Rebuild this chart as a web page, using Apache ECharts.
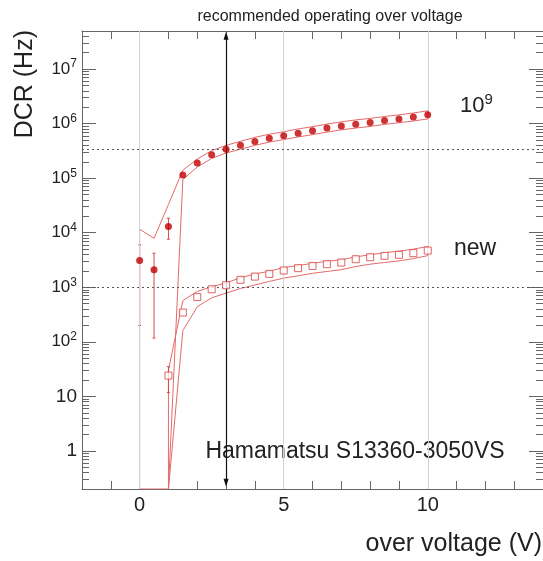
<!DOCTYPE html>
<html><head><meta charset="utf-8">
<script src="https://cdn.jsdelivr.net/npm/echarts@6/dist/echarts.min.js"></script>
<style>html,body{margin:0;padding:0;background:#fff}#c{width:543px;height:561px}</style>
</head><body><div id="c"></div>
<script>
// ---- data ----
const xs9 = [0, 0.5, 1, 1.5, 2, 2.5, 3, 3.5, 4, 4.5, 5, 5.5, 6, 6.5, 7, 7.5, 8, 8.5, 9, 9.5, 10];
const dcr9 = [3100, 2100, 13000, 1.15e5, 1.9e5, 2.7e5, 3.4e5, 4.0e5, 4.7e5, 5.4e5, 6.0e5, 6.7e5, 7.4e5, 8.3e5, 9.1e5, 9.8e5, 1.05e6, 1.14e6, 1.22e6, 1.32e6, 1.45e6];
const band9Up = [11600, 7900, 33000, 1.4e5, 2.25e5, 3.2e5, 4.0e5, 4.75e5, 5.6e5, 6.4e5, 7.1e5, 8.0e5, 8.8e5, 9.8e5, 1.08e6, 1.17e6, 1.25e6, 1.35e6, 1.45e6, 1.57e6, 1.72e6];
const band9Low = [0.2, 0.2, 0.2, 9.5e4, 1.6e5, 2.3e5, 2.9e5, 3.4e5, 4.0e5, 4.6e5, 5.1e5, 5.7e5, 6.3e5, 7.0e5, 7.7e5, 8.3e5, 8.9e5, 9.7e5, 1.04e6, 1.12e6, 1.22e6];
const errX9 = [0, 0.5, 1];
const errLo9 = [200, 117, 7600];
const errHi9 = [6000, 4200, 18500];

const xsNew = [1, 1.5, 2, 2.5, 3, 3.5, 4, 4.5, 5, 5.5, 6, 6.5, 7, 7.5, 8, 8.5, 9, 9.5, 10];
const dcrNew = [24, 344, 660, 920, 1090, 1370, 1570, 1760, 2030, 2240, 2460, 2650, 2840, 3270, 3560, 3770, 3930, 4220, 4710];
const bandNewUp = [30, 570, 840, 1020, 1200, 1500, 1750, 1970, 2300, 2500, 2750, 2980, 3200, 3600, 3950, 4300, 4600, 5000, 5600];
const bandNewLow = [0.2, 160, 440, 640, 780, 950, 1100, 1280, 1470, 1620, 1800, 1950, 2100, 2400, 2650, 2850, 3050, 3350, 3800];
const errXNew = [1];
const errLoNew = [11.7];
const errHiNew = [35];

const xGridLines = [0, 5, 10];
const refLevels = [3.4e5, 1000];
const arrowX = 3;
const arrowEnds = [0.26, 4.1e7];

const xMajorTicks = [0, 5, 10];
const xMinorTicks = [-1, 1, 2, 3, 4, 6, 7, 8, 9, 11, 12, 13];
const yMajorTicks = [1, 10, 100, 1e3, 1e4, 1e5, 1e6, 1e7];
const yMinorMult = [2, 3, 4, 5, 6, 7, 8, 9];
const yMinorTicks = [];
[0.1, 1, 10, 100, 1e3, 1e4, 1e5, 1e6, 1e7].forEach(d => yMinorMult.forEach(m => { const v = d * m; if (v >= 0.2 && v <= 5e7) yMinorTicks.push(v); }));

// ---- chart ----
const FONT = 'Liberation Sans, Arial, Helvetica, sans-serif';
const FRAME = '#666';
const RED_LINE = '#e46a6a';
const RED_DOT = '#c00000';

function poly(xs, up, lo) {
  const a = xs.map((x, i) => [x, up[i]]);
  const b = xs.map((x, i) => [x, lo[i]]).reverse();
  return a.concat(b, [[xs[0], up[0]]]);
}
function errData(xs, lo, hi) { return xs.map((x, i) => [x, lo[i], hi[i]]); }
function errRender(color) {
  return function (params, api) {
    const x = api.value(0), lo = api.value(1), hi = api.value(2);
    const p1 = api.coord([x, lo]), p2 = api.coord([x, hi]);
    const st = { stroke: color, lineWidth: 1 };
    return { type: 'group', children: [
      { type: 'line', shape: { x1: p1[0], y1: p1[1], x2: p2[0], y2: p2[1] }, style: st },
      { type: 'line', shape: { x1: p1[0] - 1.5, y1: p1[1], x2: p1[0] + 1.5, y2: p1[1] }, style: st },
      { type: 'line', shape: { x1: p2[0] - 1.5, y1: p2[1], x2: p2[0] + 1.5, y2: p2[1] }, style: st }
    ]};
  };
}

const xBase = { type: 'value', min: -2, max: 14, splitLine: { show: false } };
const yBase = { type: 'log', logBase: 10, min: 0.2, max: 5e7, splitLine: { show: false } };
const lineOn = { show: true, onZero: false, lineStyle: { color: FRAME, width: 1 } };
const lineOff = { show: false, onZero: false };

const option = {
  animation: false,
  backgroundColor: '#fff',
  grid: { left: 82, top: 31, width: 463, height: 458, containLabel: false },
  xAxis: [
    Object.assign({}, xBase, {
      position: 'bottom', axisLine: lineOn,
      axisTick: { show: true, inside: true, length: 14, customValues: xMajorTicks, lineStyle: { color: FRAME } },
      axisLabel: { show: true, customValues: xMajorTicks, fontSize: 20, color: '#222', margin: 6, fontFamily: FONT }
    }),
    Object.assign({}, xBase, {
      position: 'bottom', axisLine: lineOff,
      axisTick: { show: true, inside: true, length: 8, customValues: xMinorTicks, lineStyle: { color: FRAME } },
      axisLabel: { show: false }
    }),
    Object.assign({}, xBase, {
      position: 'top', axisLine: lineOn,
      axisTick: { show: true, inside: true, length: 14, customValues: xMajorTicks, lineStyle: { color: FRAME } },
      axisLabel: { show: false }
    }),
    Object.assign({}, xBase, {
      position: 'top', axisLine: lineOff,
      axisTick: { show: true, inside: true, length: 8, customValues: xMinorTicks, lineStyle: { color: FRAME } },
      axisLabel: { show: false }
    })
  ],
  yAxis: [
    Object.assign({}, yBase, {
      position: 'left', axisLine: lineOn,
      axisTick: { show: true, inside: true, length: 14, customValues: yMajorTicks, lineStyle: { color: FRAME } },
      axisLabel: {
        show: true, customValues: yMajorTicks, margin: 5, color: '#222', fontFamily: FONT,
        formatter: function (v) {
          const e = Math.round(Math.log10(v));
          if (e === 0) return '{p|1}';
          if (e === 1) return '{p|10}';
          return '{b|10}{s|' + e + '}';
        },
        rich: {
          p: { fontSize: 19, fontFamily: FONT, color: '#222' },
          b: { fontSize: 17, lineHeight: 22, fontFamily: FONT, color: '#222' },
          s: { fontSize: 12, lineHeight: 12, verticalAlign: 'top', fontFamily: FONT, color: '#222' }
        }
      }
    }),
    Object.assign({}, yBase, {
      position: 'left', axisLine: lineOff,
      axisTick: { show: true, inside: true, length: 7, customValues: yMinorTicks, lineStyle: { color: FRAME } },
      axisLabel: { show: false }
    }),
    Object.assign({}, yBase, {
      position: 'right', axisLine: lineOn,
      axisTick: { show: true, inside: true, length: 14, customValues: yMajorTicks, lineStyle: { color: FRAME } },
      axisLabel: { show: false }
    }),
    Object.assign({}, yBase, {
      position: 'right', axisLine: lineOff,
      axisTick: { show: true, inside: true, length: 7, customValues: yMinorTicks, lineStyle: { color: FRAME } },
      axisLabel: { show: false }
    })
  ],
  series: [
    {
      name: 'grid', type: 'line', data: [], silent: true, z: 1,
      markLine: {
        silent: true, symbol: 'none', label: { show: false }, animation: false,
        lineStyle: { color: '#d2d2d2', width: 1, type: 'solid' },
        data: xGridLines.map(v => ({ xAxis: v }))
      }
    },
    {
      name: 'refs', type: 'line', data: [], silent: true, z: 2,
      markLine: {
        silent: true, symbol: 'none', label: { show: false }, animation: false,
        lineStyle: { color: '#555', width: 1, type: [2, 3] },
        data: refLevels.map(v => ({ yAxis: v }))
      }
    },
    {
      name: 'band9', type: 'line', data: poly(xs9, band9Up, band9Low), showSymbol: false, symbol: 'none',
      lineStyle: { color: RED_LINE, width: 1 }, z: 3, silent: true
    },
    {
      name: 'bandNew', type: 'line', data: poly(xsNew, bandNewUp, bandNewLow), showSymbol: false, symbol: 'none',
      lineStyle: { color: RED_LINE, width: 1 }, z: 3, silent: true
    },
    {
      name: 'err9', type: 'custom', data: errData(errX9, errLo9, errHi9), renderItem: errRender('#d24a4a'),
      encode: { x: 0, y: [1, 2] }, z: 4, silent: true
    },
    {
      name: 'errNew', type: 'custom', data: errData(errXNew, errLoNew, errHiNew), renderItem: errRender('#d24a4a'),
      encode: { x: 0, y: [1, 2] }, z: 4, silent: true
    },
    {
      name: '10^9', type: 'scatter', data: xs9.map((x, i) => [x, dcr9[i]]),
      symbol: 'circle', symbolSize: 7, itemStyle: { color: RED_DOT }, z: 6, silent: true
    },
    {
      name: 'new', type: 'scatter', data: xsNew.map((x, i) => [x, dcrNew[i]]),
      symbol: 'rect', symbolSize: 7, itemStyle: { color: '#fff', borderColor: '#d84040', borderWidth: 1 }, z: 6, silent: true
    },
    {
      name: 'arrow', type: 'line', data: [], silent: true, z: 7,
      markLine: {
        silent: true, symbol: ['triangle', 'triangle'], symbolSize: [5, 8], label: { show: false }, animation: false,
        lineStyle: { color: '#111', width: 1.2, type: 'solid' },
        data: [[{ coord: [arrowX, arrowEnds[0]] }, { coord: [arrowX, arrowEnds[1]] }]]
      }
    }
  ],
  graphic: [
    { type: 'text', x: 330, y: 17, style: { text: 'recommended operating over voltage', fontSize: 16, fontFamily: FONT, fill: '#222', align: 'center', verticalAlign: 'middle' } },
    { type: 'text', x: 25, y: 30, rotation: Math.PI / 2, style: { text: 'DCR (Hz)', fontSize: 25, fontFamily: FONT, fill: '#222', align: 'right', verticalAlign: 'middle' } },
    { type: 'text', x: 542, y: 544, style: { text: 'over voltage (V)', fontSize: 25, fontFamily: FONT, fill: '#222', align: 'right', verticalAlign: 'middle' } },
    { type: 'text', x: 460, y: 106, style: { text: '{b|10}{s|9}', align: 'left', verticalAlign: 'middle',
        rich: { b: { fontSize: 22, lineHeight: 28, fontFamily: FONT, fill: '#222', color: '#222' }, s: { fontSize: 15, lineHeight: 15, verticalAlign: 'top', fontFamily: FONT, fill: '#222', color: '#222' } } } },
    { type: 'text', x: 454, y: 249, style: { text: 'new', fontSize: 23, fontFamily: FONT, fill: '#222', align: 'left', verticalAlign: 'middle' } },
    { type: 'text', x: 355, y: 452, style: { text: 'Hamamatsu S13360-3050VS', fontSize: 23, fontFamily: FONT, fill: '#222', align: 'center', verticalAlign: 'middle' } }
  ]
};

const chart = echarts.init(document.getElementById('c'), null, { renderer: 'canvas' });
chart.setOption(option);
</script>
</body></html>
